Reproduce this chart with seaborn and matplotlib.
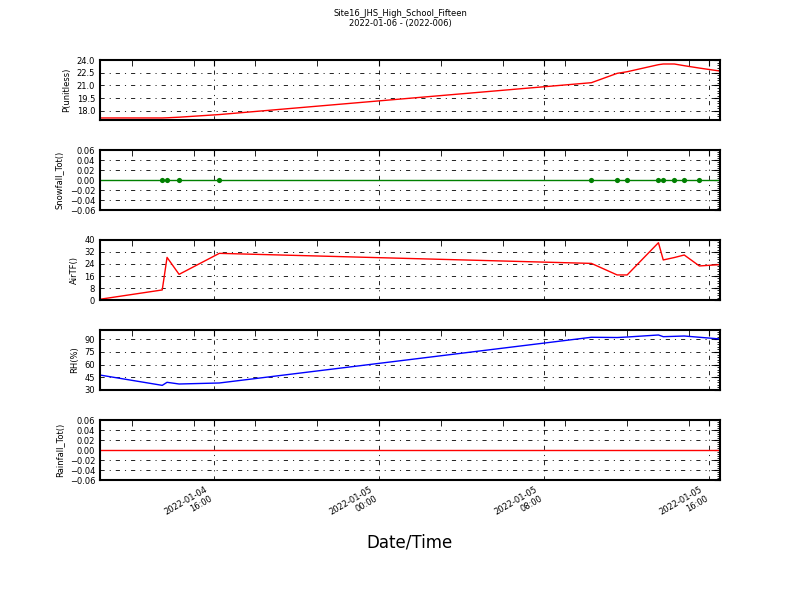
import numpy as np
import pandas as pd
import matplotlib
matplotlib.use("Agg")
import matplotlib.pyplot as plt
import matplotlib.dates as mdates
from matplotlib.ticker import FixedLocator, AutoMinorLocator, ScalarFormatter
import seaborn as sns

# ---------------- data ----------------
times = pd.to_datetime([
    "2022-01-04 10:28", "2022-01-04 13:29", "2022-01-04 13:43", "2022-01-04 14:18",
    "2022-01-04 16:15", "2022-01-05 10:17", "2022-01-05 11:32", "2022-01-05 12:01",
    "2022-01-05 13:32", "2022-01-05 13:46", "2022-01-05 14:18", "2022-01-05 14:47",
    "2022-01-05 15:31", "2022-01-05 16:31",
])
pressure = [17.18, 17.18, 17.20, 17.27, 17.58, 21.33, 22.43, 22.62, 23.45, 23.53,
            23.53, 23.33, 23.05, 22.70]
snowfall = [0.0] * 14
air_tf = [0.5, 6.7, 28.4, 17.1, 31.1, 24.4, 16.7, 16.7, 38.2, 26.7, 28.3, 30.0, 22.7, 23.6]
rh = [47.7, 35.5, 39.1, 37.1, 38.3, 92.4, 92.1, 92.7, 95.1, 93.1, 93.5, 93.9, 92.4, 90.4]
rainfall = [0.0] * 14

ylabels = ["P(unitless)", "Snowfall_Tot()", "AirTF()", "RH(%)", "Rainfall_Tot()"]
title_lines = ["Site16_JHS_High_School_Fifteen", "2022-01-06 - (2022-006)"]

df = pd.DataFrame({"time": times, "P": pressure, "Snow": snowfall,
                   "AirTF": air_tf, "RH": rh, "Rain": rainfall})

# ---------------- style ----------------
sns.set_style("white")
plt.rcParams.update({
    "font.family": ["DejaVu Sans"],
    "font.size": 6,
    "text.color": "black",
    "axes.labelcolor": "black",
    "xtick.color": "black",
    "ytick.color": "black",
    "axes.linewidth": 1.5,
    "xtick.direction": "in",
    "ytick.direction": "in",
    "xtick.major.size": 4,
    "xtick.minor.size": 4,
    "ytick.major.size": 4,
    "ytick.minor.size": 2,
    "xtick.labelsize": 6,
    "ytick.labelsize": 6,
    "axes.edgecolor": "black",
    "lines.scale_dashes": False,
})

fig = plt.figure(figsize=(8, 6), dpi=100)
axes = fig.subplots(5, 1, sharex=True)
fig.subplots_adjust(left=0.125, right=0.9, top=0.9, bottom=0.2, hspace=0.5)

specs = [
    ("P", "#ff0000", (16.94, 24.0), np.arange(18.0, 24.01, 1.5)),
    ("Snow", "#008000", (-0.06, 0.06), np.round(np.arange(-0.06, 0.0601, 0.02), 2)),
    ("AirTF", "#ff0000", (0, 40), np.arange(0, 41, 8)),
    ("RH", "#0000ff", (30, 101), np.arange(30, 91, 15)),
    ("Rain", "#ff0000", (-0.06, 0.06), np.round(np.arange(-0.06, 0.0601, 0.02), 2)),
]

grid_ls = (0, (3.0, 3.6, 0.8, 3.6))

for ax, (col, color, ylim, yt), ylab in zip(axes, specs, ylabels):
    sns.lineplot(data=df, x="time", y=col, ax=ax, color=color, linewidth=1.0,
                 estimator=None, sort=False)
    if col == "Snow":
        sns.scatterplot(data=df.iloc[1:-1], x="time", y=col, ax=ax, color=color,
                        s=14, linewidth=0, zorder=3)
    ax.set_ylim(*ylim)
    ax.yaxis.set_major_locator(FixedLocator(yt))
    fmt = ScalarFormatter()
    fmt.set_useOffset(False)
    ax.yaxis.set_major_formatter(fmt)
    ax.yaxis.set_minor_locator(AutoMinorLocator(5))
    ax.set_ylabel(ylab, fontsize=6)
    ax.set_xlabel("")
    ax.tick_params(which="both", direction="in", top=True, right=True)
    ax.grid(True, which="major", linestyle=grid_ls, color="black", linewidth=0.6)
    for s in ax.spines.values():
        s.set_visible(True)
        s.set_linewidth(1.5)
        s.set_color("black")

ax = axes[-1]
ax.set_xlim(times[0], times[-1])
ax.xaxis.set_major_locator(mdates.HourLocator(byhour=[0, 8, 16]))
ax.xaxis.set_minor_locator(mdates.HourLocator(byhour=range(0, 24, 3)))
ax.xaxis.set_major_formatter(mdates.DateFormatter("%Y-%m-%d\n%H:%M"))
for lbl in ax.get_xticklabels():
    lbl.set_rotation(30)
    lbl.set_ha("right")
    lbl.set_multialignment("right")
    lbl.set_fontsize(6)
ax.set_xlabel("Date/Time", fontsize=12, labelpad=6)

fig.text(0.5, 0.985, "\n".join(title_lines), ha="center", va="top", fontsize=6)

fig.savefig("out.png", dpi=100, facecolor="white")
